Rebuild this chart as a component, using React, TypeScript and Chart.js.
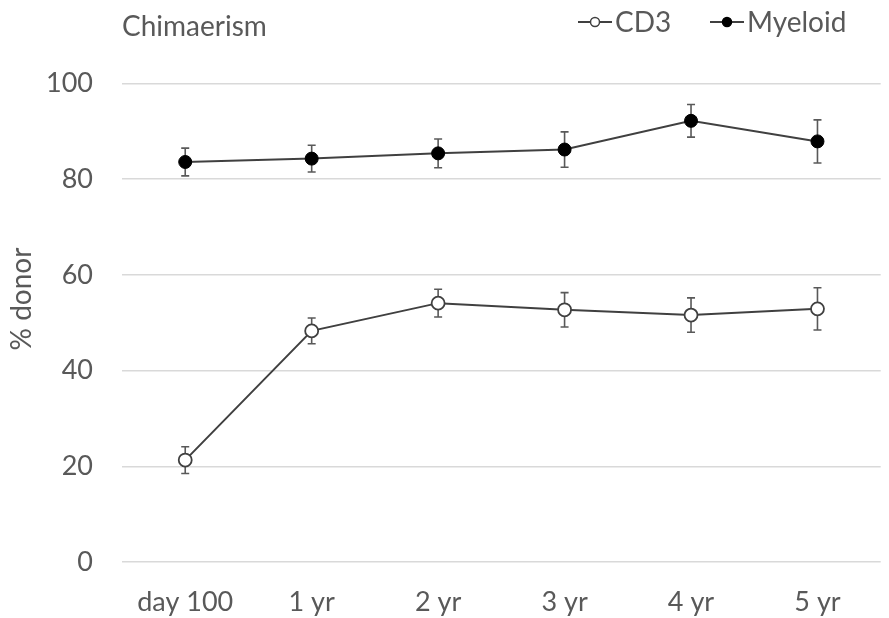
import React, { useEffect, useRef } from "react";
import { Chart, registerables } from "chart.js";

Chart.register(...registerables);

const categories = ["day 100", "1 yr", "2 yr", "3 yr", "4 yr", "5 yr"];
const cd3Values = [21.3, 48.3, 54.1, 52.7, 51.6, 52.9];
const cd3Errors = [2.8, 2.7, 2.9, 3.6, 3.6, 4.4];
const myeloidValues = [83.6, 84.3, 85.4, 86.2, 92.2, 87.9];
const myeloidErrors = [2.9, 2.8, 3.0, 3.7, 3.4, 4.5];
const seriesNames = ["CD3", "Myeloid"];
const chartTitle = "Chimaerism";
const yAxisTitle = "% donor";

const FONT = "Lato, 'Open Sans', sans-serif";
const TEXT = "#595959";
const LINE = "#404040";

const errorBarPlugin = {
  id: "errorBars",
  beforeDatasetsDraw(chart: any) {
    const ctx = chart.ctx;
    const yScale = chart.scales.y;
    const errs = [cd3Errors, myeloidErrors];
    ctx.save();
    ctx.strokeStyle = "#595959";
    ctx.lineWidth = 1.6;
    chart.data.datasets.forEach((ds: any, di: number) => {
      const meta = chart.getDatasetMeta(di);
      meta.data.forEach((pt: any, i: number) => {
        const v = ds.data[i];
        const e = errs[di][i];
        const x = pt.x;
        const yt = yScale.getPixelForValue(v + e);
        const yb = yScale.getPixelForValue(v - e);
        ctx.beginPath();
        ctx.moveTo(x, yt);
        ctx.lineTo(x, yb);
        ctx.moveTo(x - 4, yt);
        ctx.lineTo(x + 4, yt);
        ctx.moveTo(x - 4, yb);
        ctx.lineTo(x + 4, yb);
        ctx.stroke();
      });
    });
    ctx.restore();
  },
};

const decorPlugin = {
  id: "decor",
  afterDraw(chart: any) {
    const ctx = chart.ctx;
    const area = chart.chartArea;
    ctx.save();
    ctx.fillStyle = TEXT;
    ctx.font = `28px ${FONT}`;
    ctx.textAlign = "left";
    ctx.textBaseline = "alphabetic";
    ctx.fillText(chartTitle, area.left, 36);

    // y axis title
    ctx.save();
    ctx.translate(22, 299);
    ctx.rotate(-Math.PI / 2);
    ctx.textAlign = "center";
    ctx.textBaseline = "middle";
    ctx.fillText(yAxisTitle, 0, 0);
    ctx.restore();

    // legend
    const items = [
      { x: 578, fill: "#ffffff", label: seriesNames[0] },
      { x: 710, fill: "#000000", label: seriesNames[1] },
    ];
    const ly = 22;
    items.forEach((it) => {
      ctx.strokeStyle = LINE;
      ctx.lineWidth = 2;
      ctx.beginPath();
      ctx.moveTo(it.x, ly);
      ctx.lineTo(it.x + 34, ly);
      ctx.stroke();
      ctx.beginPath();
      ctx.arc(it.x + 17, ly, 4.5, 0, Math.PI * 2);
      ctx.fillStyle = it.fill;
      ctx.fill();
      ctx.lineWidth = 1.5;
      ctx.strokeStyle = it.fill === "#000000" ? "#000000" : LINE;
      ctx.stroke();
      ctx.fillStyle = TEXT;
      ctx.textAlign = "left";
      ctx.textBaseline = "alphabetic";
      ctx.fillText(it.label, it.x + 37, 32);
    });
    ctx.restore();
  },
};

export default function App() {
  const ref = useRef<HTMLCanvasElement | null>(null);
  useEffect(() => {
    if (!ref.current) return;
    const chart = new Chart(ref.current, {
      type: "line",
      data: {
        labels: categories,
        datasets: [
          {
            label: seriesNames[0],
            data: cd3Values,
            borderColor: LINE,
            borderWidth: 2,
            pointRadius: 6.5,
            pointBackgroundColor: "#ffffff",
            pointBorderColor: LINE,
            pointBorderWidth: 1.8,
            tension: 0,
          },
          {
            label: seriesNames[1],
            data: myeloidValues,
            borderColor: LINE,
            borderWidth: 2,
            pointRadius: 6.5,
            pointBackgroundColor: "#000000",
            pointBorderColor: "#000000",
            pointBorderWidth: 1,
            tension: 0,
          },
        ],
      },
      options: {
        animation: false,
        responsive: false,
        devicePixelRatio: 1,
        layout: { padding: { top: 83.5, right: 2, bottom: 0, left: 0 } },
        plugins: {
          legend: { display: false },
          tooltip: { enabled: false },
          title: { display: false },
        },
        scales: {
          x: {
            offset: true,
            grid: { display: false, drawTicks: false, offset: true },
            border: { display: false },
            ticks: {
              color: TEXT,
              font: { family: FONT, size: 27 },
              padding: 24,
              maxRotation: 0,
              autoSkip: false,
            },
            afterFit: (s: any) => {
              s.height = 56;
            },
          },
          y: {
            min: 0,
            max: 100,
            grid: { color: "#d9d9d9", lineWidth: 1.6, drawTicks: false },
            border: { display: false },
            ticks: {
              stepSize: 20,
              color: TEXT,
              font: { family: FONT, size: 27 },
              padding: 29,
            },
            afterFit: (s: any) => {
              s.width = 122;
            },
          },
        },
      },
      plugins: [errorBarPlugin, decorPlugin],
    });
    return () => chart.destroy();
  }, []);
  return (
    <div style={{ position: "absolute", left: 0, top: 0, width: 889, height: 618, background: "#fff" }}>
      <canvas ref={ref} width={889} height={618} />
    </div>
  );
}
